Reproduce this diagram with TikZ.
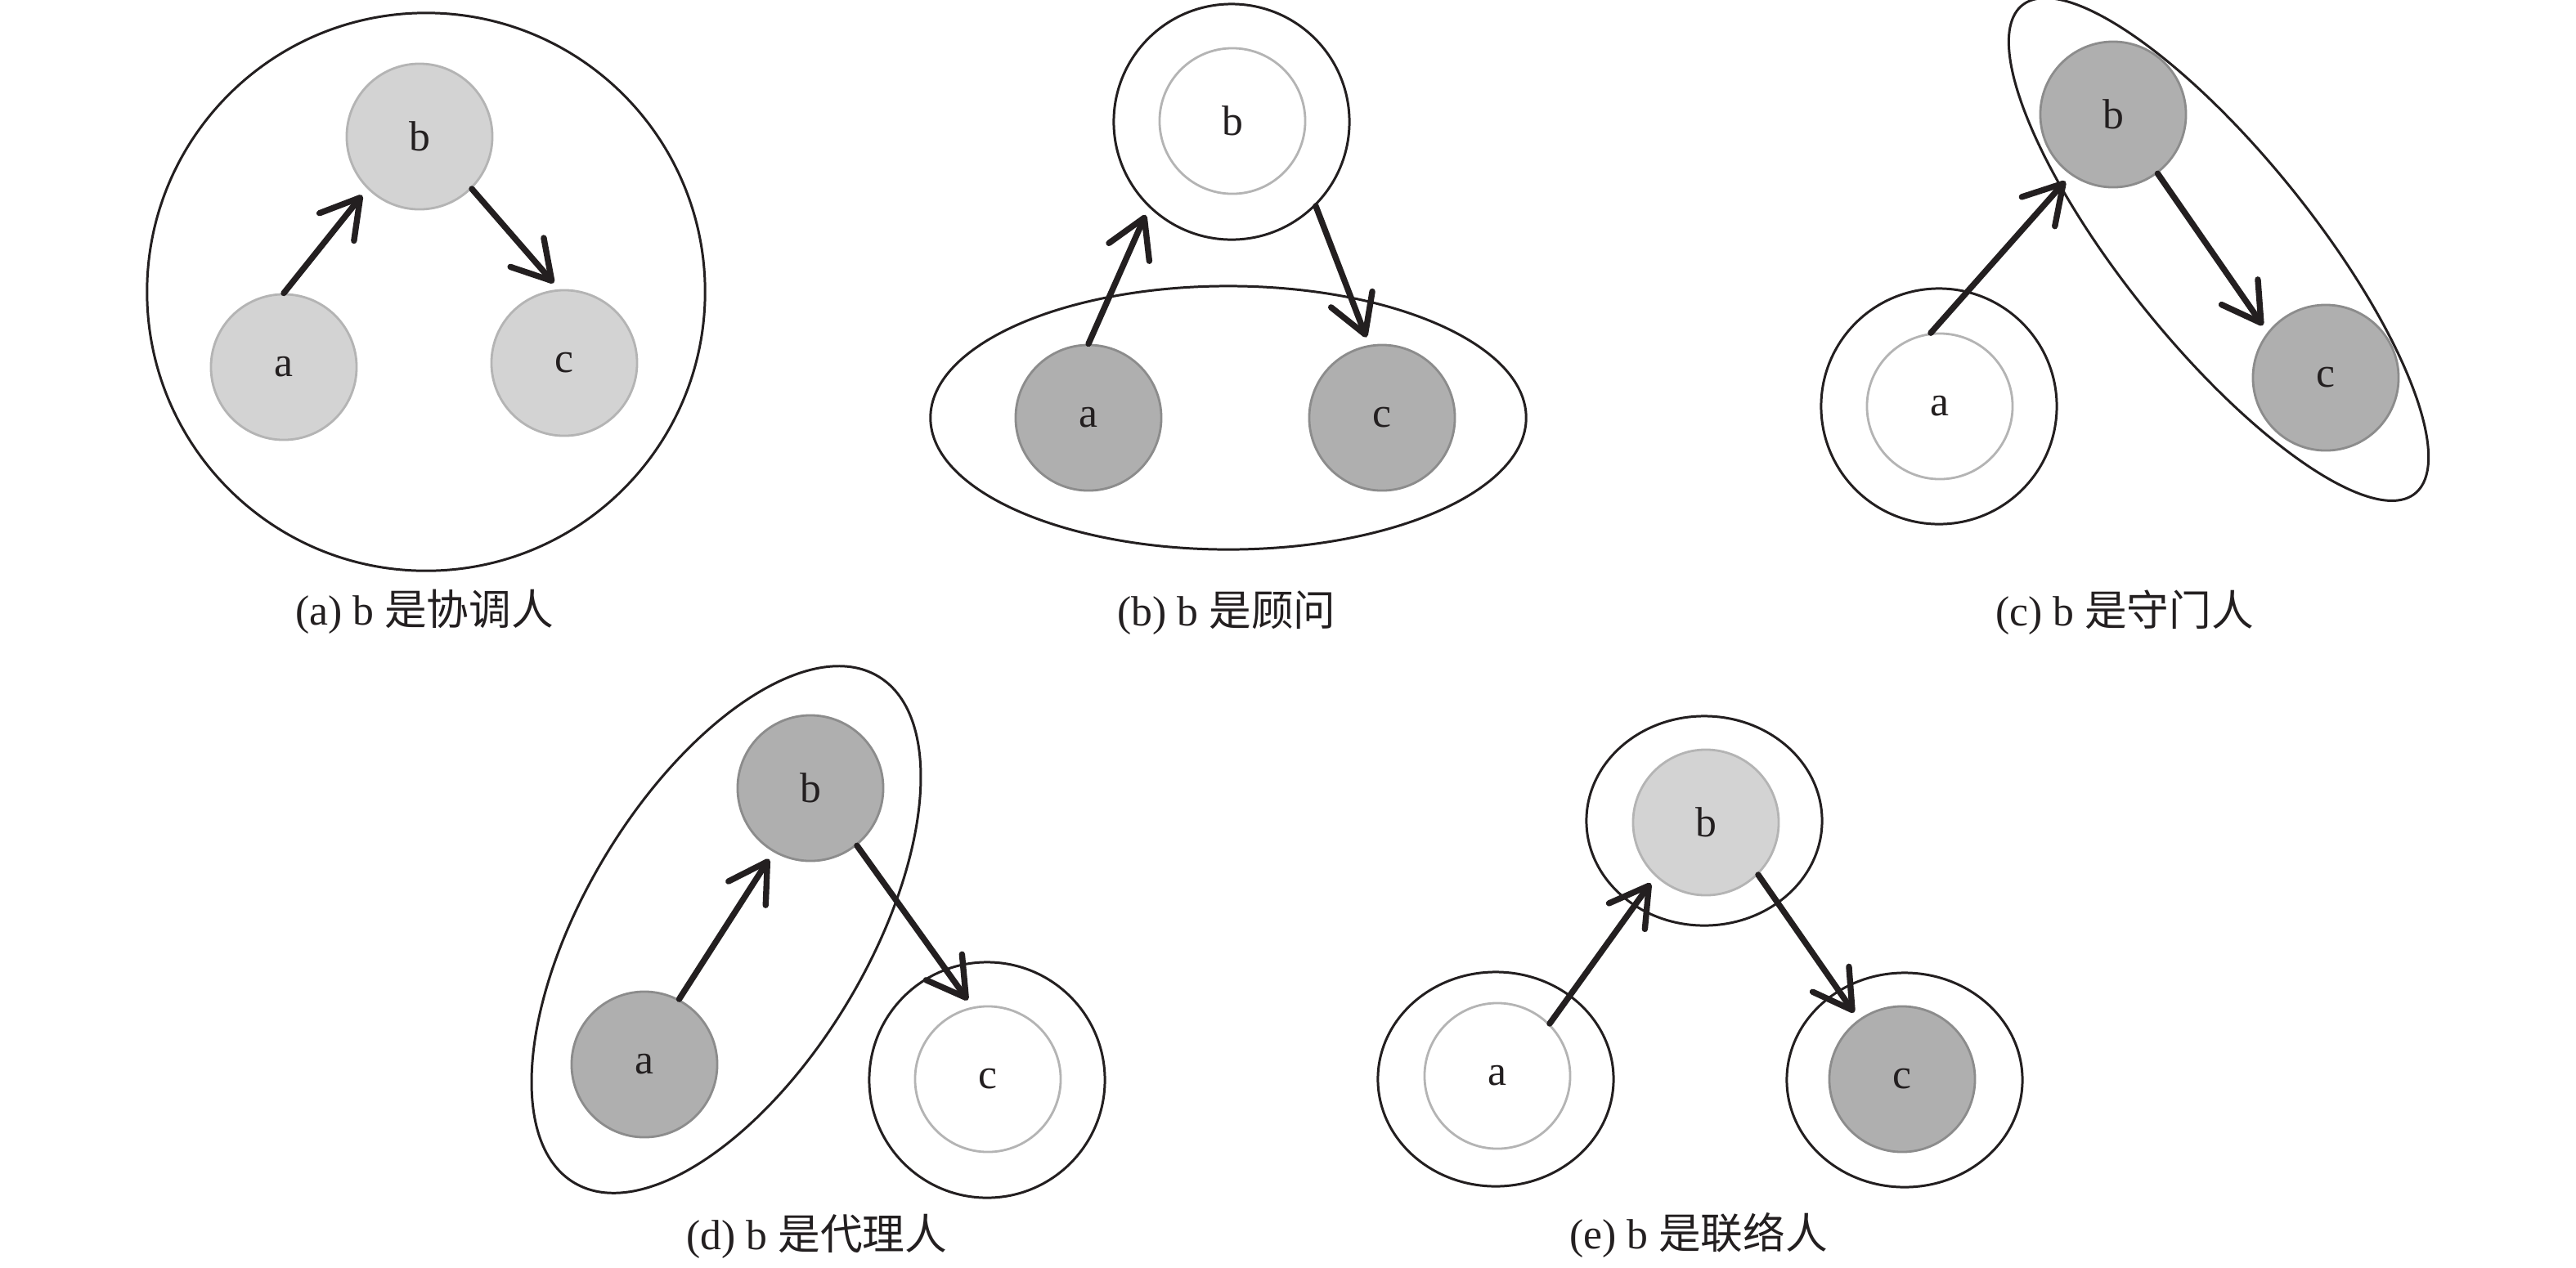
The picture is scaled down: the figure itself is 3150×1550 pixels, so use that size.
\documentclass[tikz,border=0pt]{standalone}
\usepackage{fontspec}
\setmainfont{Liberation Serif}
\newfontfamily\cjk{Noto Sans CJK SC}
\usetikzlibrary{arrows.meta,shapes.geometric}
\definecolor{ink}{HTML}{231F20}
\definecolor{lightfill}{HTML}{D3D3D3}
\definecolor{lightedge}{HTML}{B4B4B4}
\definecolor{darkfill}{HTML}{AFAFAF}
\definecolor{darkedge}{HTML}{8C8C8C}
\begin{document}
\begin{tikzpicture}[x=0.01cm,y=-0.01cm,
  every node/.style={font=\fontsize{14.7pt}{17pt}\selectfont, text=ink},
  actor/.style={circle, minimum size=1.78cm, inner sep=0pt, line width=0.8pt},
  lightnode/.style={actor, draw=lightedge, fill=lightfill},
  darknode/.style={actor, draw=darkedge, fill=darkfill},
  whitenode/.style={actor, draw=lightedge, fill=white},
  ring/.style={circle, draw=ink, line width=0.85pt, minimum size=2.88cm, inner sep=0pt},
  oval/.style={ellipse, draw=ink, line width=0.85pt, inner sep=0pt},
  link/.style={draw=ink, line width=2.1pt, line cap=round,
    -{Straight Barb[length=4.6mm,width=5.4mm,round]}, shorten >=1mm},
  caption/.style={inner sep=0pt}
]
\useasboundingbox (0,0) rectangle (3150,1550);

% ---------- (a) ----------
\node[ring, minimum size=6.82cm] (Ag) at (521,357) {};
\node[lightnode] (Ab) at (513,167) {b};
\node[lightnode] (Aa) at (347,449) {a};
\node[lightnode] (Ac) at (690,444) {c};
\draw[link] (Aa.90) -- (Ab.-135);
\draw[link] (Ab.-45) -- (Ac.94);
\node[caption] (capA) at (519,748) {(a) b {\cjk 是协调人}};

% ---------- (b) ----------
\node[ring] (Bbo) at (1506,149) {};
\node[whitenode] (Bb) at (1507,148) {b};
\node[oval, minimum width=7.28cm, minimum height=3.22cm] (Bg) at (1502,511) {};
\node[darknode] (Ba) at (1331,511) {a};
\node[darknode] (Bc) at (1690,511) {c};
\draw[link] (Ba.90) -- (Bbo.-134);
\draw[link] (Bbo.-45) -- (Bc.100);
\node[caption] (capB) at (1500,750) {(b) b {\cjk 是顾问}};

% ---------- (c) ----------
\node[ring] (Cao) at (2371,497) {};
\node[whitenode] (Ca) at (2372,497) {a};
\node[oval, minimum width=7.66cm, minimum height=2.32cm, rotate=-51.2] (Cg) at (2713,305) {};
\node[darknode] (Cb) at (2584,140) {b};
\node[darknode] (Cc) at (2844,462) {c};
\draw[link] (Ca.97) -- (Cb.-125);
\draw[link] (Cb.-53) -- (Cc.142);
\node[caption] (capC) at (2598,749) {(c) b {\cjk 是守门人}};

% ---------- (d) ----------
\node[oval, minimum width=7.22cm, minimum height=3.46cm, rotate=59] (Dg) at (888,1137) {};
\node[darknode] (Db) at (991,964) {b};
\node[darknode] (Da) at (788,1302) {a};
\node[ring] (Dco) at (1207,1321) {};
\node[whitenode] (Dc) at (1208,1320) {c};
\draw[link] (Da.62) -- (Db.-120);
\draw[link] (Db.-51) -- (Dc.102);
\node[caption] (capD) at (999,1512) {(d) b {\cjk 是代理人}};

% ---------- (e) ----------
\node[oval, minimum width=2.88cm, minimum height=2.56cm] (Ebo) at (2084,1004) {};
\node[lightnode] (Eb) at (2086,1006) {b};
\node[oval, minimum width=2.88cm, minimum height=2.62cm] (Eao) at (1829,1320) {};
\node[whitenode] (Ea) at (1831,1316) {a};
\node[oval, minimum width=2.88cm, minimum height=2.62cm] (Eco) at (2329,1321) {};
\node[darknode] (Ec) at (2326,1320) {c};
\draw[link] (Ea.45) -- (Eb.-133);
\draw[link] (Eb.-45) -- (Ec.126);
\node[caption] (capE) at (2077,1511) {(e) b {\cjk 是联络人}};
\end{tikzpicture}
\end{document}
